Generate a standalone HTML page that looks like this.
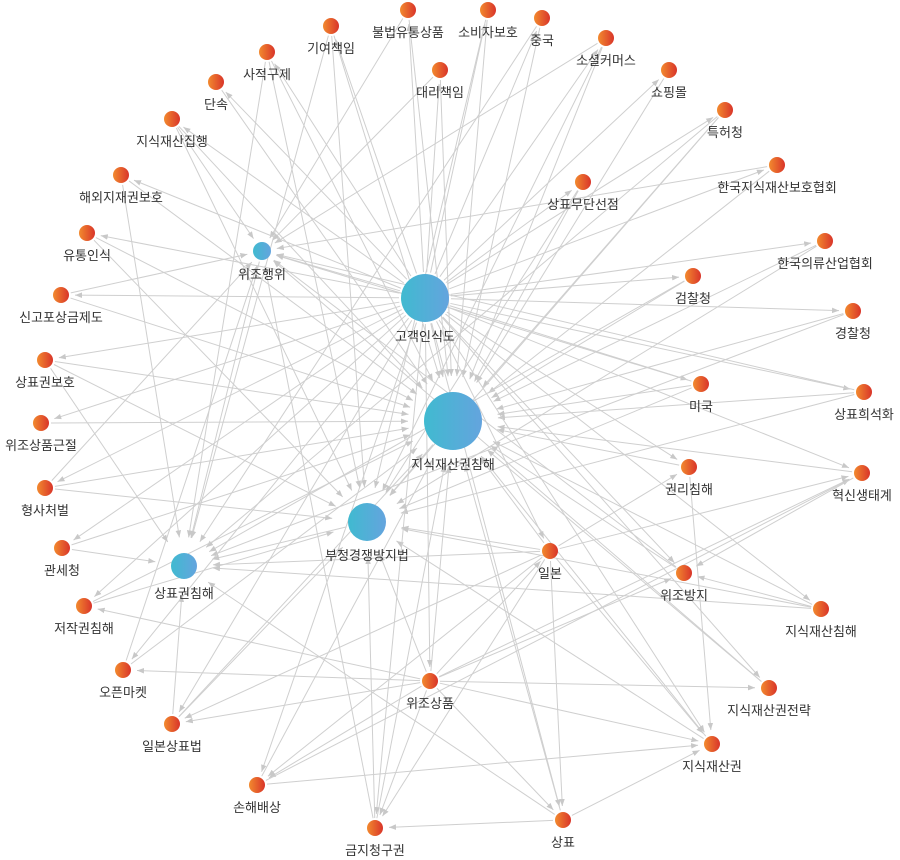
<!DOCTYPE html>
<html><head><meta charset="utf-8"><style>
html,body{margin:0;padding:0;background:#fff;}
svg{display:block;}
text{font-family:"Liberation Sans","Noto Sans CJK KR",sans-serif;font-size:13px;fill:#333;text-anchor:middle;}
</style></head><body>
<svg id="s" width="900" height="860" xmlns="http://www.w3.org/2000/svg">
<defs>
<linearGradient id="go" x1="0" x2="1"><stop offset="0" stop-color="#f28a2e"/><stop offset="1" stop-color="#d9352a"/></linearGradient>
<linearGradient id="gb" x1="0" x2="1"><stop offset="0" stop-color="#40bad0"/><stop offset="1" stop-color="#64a4de"/></linearGradient>
<marker id="ar" viewBox="0 0 10 10" refX="10" refY="5" markerWidth="7" markerHeight="7" orient="auto"><path d="M0,1L10,5L0,9z" fill="#c8c8c8"/></marker>
</defs>
<g id="e"></g><g id="n"></g>
</svg>
<script>
var N={
"기여책임":[331,26,8],"불법유통상품":[408,10,8],"소비자보호":[488,10,8],"중국":[542,18,8],"소셜커머스":[606,38,8],"쇼핑몰":[669,70,8],"특허청":[725,110,8],"한국지식재산보호협회":[777,165,8],"한국의류산업협회":[825,241,8],"경찰청":[853,311,8],"상표희석화":[864,392,8],"혁신생태계":[862,473,8],"지식재산침해":[821,609,8],"지식재산권전략":[769,688,8],"지식재산권":[712,744,8],"상표":[563,820,8],"금지청구권":[375,828,8],"손해배상":[257,785,8],"일본상표법":[172,724,8],"오픈마켓":[123,670,8],"저작권침해":[84,606,8],"관세청":[62,548,8],"형사처벌":[45,488,8],"위조상품근절":[41,423,8],"상표권보호":[45,360,8],"신고포상금제도":[61,295,8],"유통인식":[87,233,8],"해외지재권보호":[121,175,8],"지식재산집행":[172,119,8],"단속":[216,82,8],"사적구제":[267,52,8],"대리책임":[440,70,8],"상표무단선점":[583,182,8],"검찰청":[693,276,8],"미국":[701,384,8],"권리침해":[689,467,8],"일본":[550,551,8],"위조방지":[684,573,8],"위조상품":[430,681,8],
"위조행위":[262,251,9],"고객인식도":[425,298,24],"지식재산권침해":[453,421,29],"부정경쟁방지법":[367,522,19],"상표권침해":[184,566,13]};
var hubs=["지식재산권침해","고객인식도","부정경쟁방지법","상표권침해","위조행위"];
var E=[];var leaves=Object.keys(N).filter(function(k){return hubs.indexOf(k)<0});
leaves.forEach(function(k,i){E.push([k,"지식재산권침해"]);E.push(["고객인식도",k]);
 if(i%2==0)E.push([k,"부정경쟁방지법"]);if(i%3==0)E.push([k,"상표권침해"]);if(i%3==1)E.push([k,"위조행위"]);});
E.push(["고객인식도","지식재산권침해"],["고객인식도","위조행위"],["위조행위","상표권침해"],["부정경쟁방지법","상표권침해"],["지식재산권침해","부정경쟁방지법"]);
["지식재산권","상표","금지청구권","일본상표법","오픈마켓","저작권침해","지식재산권전략","혁신생태계","일본","위조방지","손해배상"].forEach(function(k){E.push(["위조상품",k])});
["지식재산권","상표","금지청구권","일본상표법","손해배상","혁신생태계","권리침해"].forEach(function(k){E.push(["일본",k])});
E.push(["손해배상","지식재산권"],["손해배상","혁신생태계"],["상표","지식재산권"],["상표","금지청구권"],["지식재산침해","위조방지"],["혁신생태계","위조방지"],["권리침해","지식재산권"]);
var ns="http://www.w3.org/2000/svg",eg=document.getElementById("e"),ng=document.getElementById("n");
E.forEach(function(p){var a=N[p[0]],b=N[p[1]];if(!a||!b)return;var dx=b[0]-a[0],dy=b[1]-a[1],d=Math.sqrt(dx*dx+dy*dy);
 var so=a[2]+2,to=b[2]+(b[2]>10?16:6);var l=document.createElementNS(ns,"line");
 l.setAttribute("x1",a[0]+dx/d*so);l.setAttribute("y1",a[1]+dy/d*so);l.setAttribute("x2",b[0]-dx/d*to);l.setAttribute("y2",b[1]-dy/d*to);
 l.setAttribute("stroke","#cfcfcf");l.setAttribute("stroke-width","1");l.setAttribute("marker-end","url(#ar)");eg.appendChild(l);});
Object.keys(N).forEach(function(k){var v=N[k],c=document.createElementNS(ns,"circle");c.setAttribute("cx",v[0]);c.setAttribute("cy",v[1]);c.setAttribute("r",v[2]);
 c.setAttribute("fill",hubs.indexOf(k)>=0?"url(#gb)":"url(#go)");ng.appendChild(c);
 var t=document.createElementNS(ns,"text");t.setAttribute("x",v[0]);t.setAttribute("y",v[1]+v[2]+19);t.textContent=k;ng.appendChild(t);});
</script>
</body></html>
